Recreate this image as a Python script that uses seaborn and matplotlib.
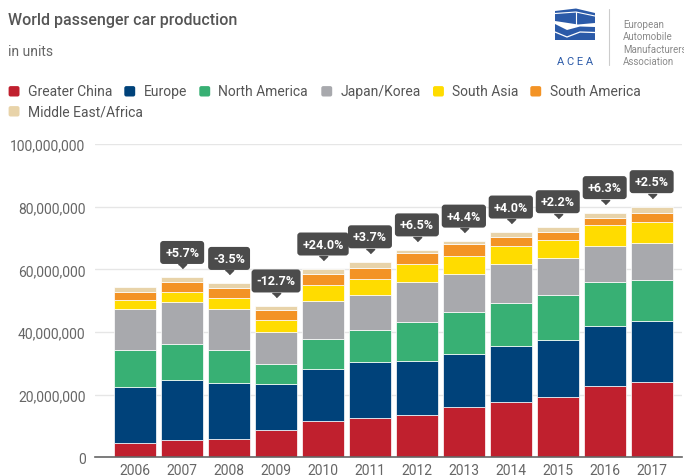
import numpy as np
import pandas as pd
import matplotlib
matplotlib.use('Agg')
import matplotlib.pyplot as plt
from matplotlib import ticker
from matplotlib.patches import FancyBboxPatch, Polygon
from matplotlib.transforms import offset_copy
import seaborn as sns

# values in millions of units
years = ['2006', '2007', '2008', '2009', '2010', '2011',
         '2012', '2013', '2014', '2015', '2016', '2017']
greater_china = [4.7, 5.5, 6.0, 8.6, 11.5, 12.5, 13.5, 16.1, 17.7, 19.3, 22.9, 23.9]
europe = [17.8, 19.2, 17.6, 14.7, 16.8, 17.8, 17.1, 17.0, 17.7, 18.1, 19.0, 19.6]
north_america = [11.7, 11.4, 10.6, 6.6, 9.4, 10.3, 12.6, 13.3, 14.0, 14.3, 14.0, 13.0]
japan_korea = [13.1, 13.5, 13.1, 10.1, 12.2, 11.3, 12.6, 12.0, 12.3, 11.9, 11.5, 11.9]
south_asia = [3.0, 3.2, 3.6, 3.8, 5.1, 4.9, 5.9, 5.8, 5.7, 5.7, 6.8, 6.8]
south_america = [2.5, 3.2, 3.2, 3.3, 3.5, 3.7, 3.5, 3.9, 3.0, 2.7, 2.1, 2.7]
middle_east_africa = [1.4, 1.4, 1.4, 1.2, 1.6, 1.9, 1.0, 0.9, 1.5, 1.6, 1.8, 2.1]
changes = ['', '+5.7%', '-3.5%', '-12.7%', '+24.0%', '+3.7%',
           '+6.5%', '+4.4%', '+4.0%', '+2.2%', '+6.3%', '+2.5%']

regions = ['Greater China', 'Europe', 'North America', 'Japan/Korea',
           'South Asia', 'South America', 'Middle East/Africa']
colors = ['#c0202e', '#00427a', '#38b074', '#a8a9ad', '#ffdc00', '#f39325', '#e8d3a9']

df = pd.DataFrame({
    'year': years,
    'Greater China': greater_china,
    'Europe': europe,
    'North America': north_america,
    'Japan/Korea': japan_korea,
    'South Asia': south_asia,
    'South America': south_america,
    'Middle East/Africa': middle_east_africa,
})

sns.set_style('white')
plt.rcParams['font.family'] = ['Roboto', 'DejaVu Sans']

W, H = 684, 477
fig = plt.figure(figsize=(W / 100, H / 100), dpi=100)
ax = fig.add_axes([95.3 / W, 1 - 458.3 / H, (681.7 - 95.3) / W, (458.3 - 145) / H])

bottom = np.zeros(len(years))
for region, color in zip(regions, colors):
    vals = df[region].to_numpy() * 1e6
    sns.barplot(x=df['year'], y=vals, bottom=bottom, color=color, width=0.89,
                edgecolor='white', linewidth=0.5, saturation=1, errorbar=None, ax=ax)
    bottom = bottom + vals
totals = bottom

ax.set_ylim(0, 100e6)
ax.set_xlim(-0.85, 11.64)
ax.set_yticks(np.arange(0, 100e6 + 1, 20e6))
ax.yaxis.set_major_formatter(ticker.FuncFormatter(lambda v, p: f'{int(v):,}'))
ax.grid(axis='y', color='#e6e6e6', linewidth=1)
ax.set_axisbelow(True)
for s in ['top', 'right', 'left']:
    ax.spines[s].set_visible(False)
ax.spines['bottom'].set_color('#666666')
ax.spines['bottom'].set_linewidth(1.2)
ax.tick_params(axis='both', length=0, labelsize=10, labelcolor='#666666')
ax.tick_params(axis='y', pad=7)
ax.tick_params(axis='x', pad=4)
ax.set_xlabel('')
ax.set_ylabel('')

# growth labels above the bars
tri = offset_copy(ax.transData, fig=fig, x=0, y=13, units='dots')
for i, (label, top) in enumerate(zip(changes, totals)):
    if not label:
        continue
    ax.annotate(label, xy=(i, top), xytext=(0, 25), textcoords='offset pixels',
                ha='center', va='center', fontsize=9, color='white', fontweight='bold',
                bbox=dict(boxstyle='round,pad=0.4,rounding_size=0.25', fc='#4b4b4b', ec='none'),
                annotation_clip=False, zorder=5)
    ax.plot(i, top, marker=[(-1, 0), (1, 0), (0, -1)], ms=6, color='#4b4b4b',
            transform=tri, clip_on=False, zorder=5)

# overlay in pixel coordinates for title, legend and logo
ov = fig.add_axes([0, 0, 1, 1], zorder=3)
ov.set_xlim(0, W)
ov.set_ylim(H, 0)
ov.axis('off')
ov.patch.set_alpha(0)

ov.text(7.5, 21, 'World passenger car production', fontsize=11.5, color='#555555',
        fontweight='medium', va='center')
ov.text(7.5, 52, 'in units', fontsize=10, color='#666666', va='center')

legend_x = [8.3, 124, 199, 321, 432.7, 530, 8.3]
legend_y = [92.3, 92.3, 92.3, 92.3, 92.3, 92.3, 112.3]
for region, color, lx, ly in zip(regions, colors, legend_x, legend_y):
    ov.add_patch(FancyBboxPatch((lx + 1, ly - 4.5), 9.5, 9, boxstyle='round,pad=0.7,rounding_size=2',
                                fc=color, ec='none'))
    ov.text(lx + 19.5, ly, region, fontsize=10, color='#555555', va='center')

# ACEA logo
blue = '#2b5aa8'
ov.add_patch(Polygon([(555, 12), (576, 9.5), (595, 14), (595, 24), (578, 25.5), (555, 22)],
                     closed=True, fc=blue, ec='none'))
ov.plot([555, 576, 595], [14.5, 13, 17], color='white', lw=0.8)
ov.plot([576, 576], [13, 25], color='white', lw=0.8)
ov.add_patch(Polygon([(555, 25), (567, 31), (580, 27.5), (595, 28), (595, 41), (555, 41)],
                     closed=True, fc=blue, ec='none'))
ov.plot([555, 567, 580, 595], [33, 38, 33, 33.5], color='white', lw=0.9)
ov.text(575, 62, 'A C E A', fontsize=8, color=blue, ha='center', va='center')
ov.plot([609, 609], [10, 66], color='#cccccc', lw=0.8)
for t, ty in zip(['European', 'Automobile', 'Manufacturers', 'Association'], [25, 37.5, 50, 62]):
    ov.text(623, ty, t, fontsize=7, color='#8a8a8a', va='center')

fig.savefig('out.png', dpi=100)
